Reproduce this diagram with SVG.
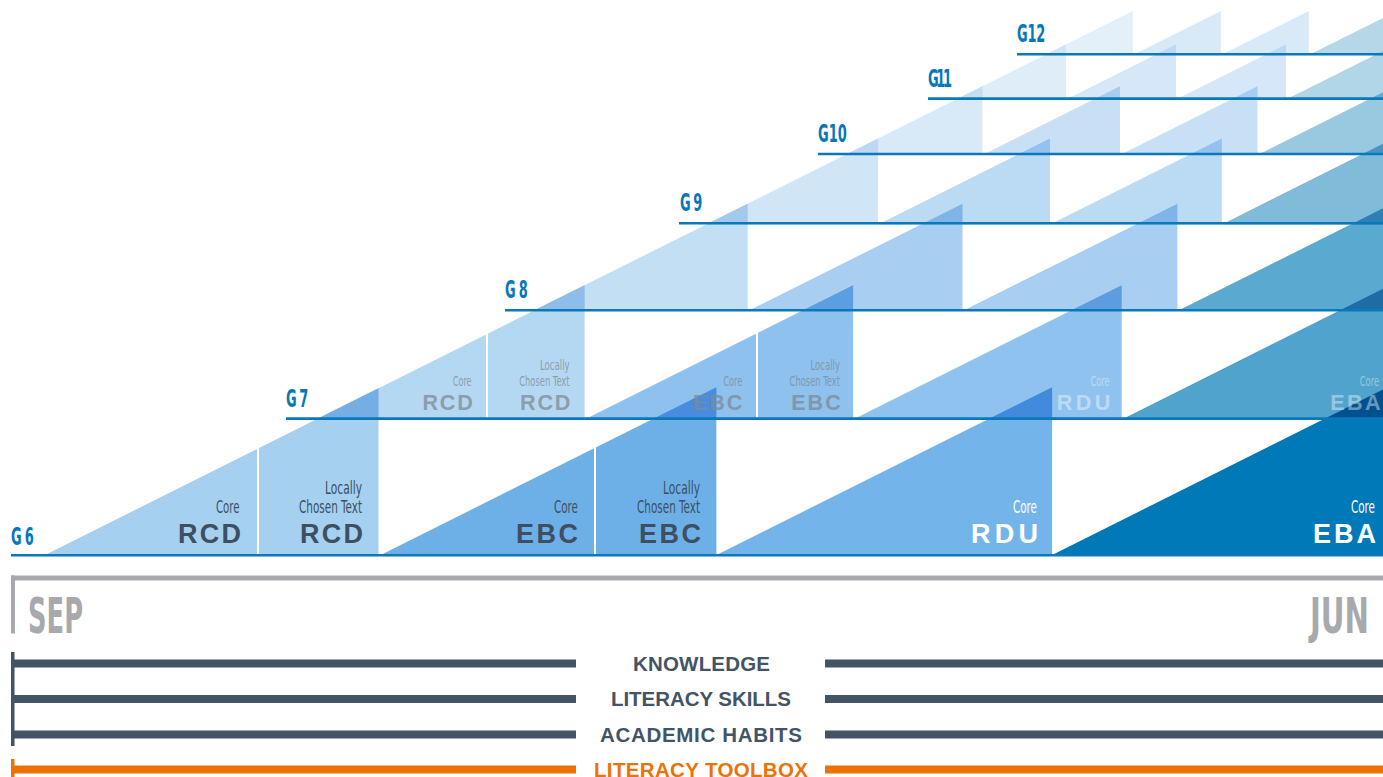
<svg xmlns="http://www.w3.org/2000/svg" width="1383" height="777" viewBox="0 0 1383 777">
<style>
.gl{stroke:#0a78b9;stroke-width:2.6;fill:none}
.gt{font-family:"Liberation Sans Narrow","DejaVu Sans Condensed","Liberation Sans",sans-serif;font-weight:bold;font-size:24px;fill:#0677b7}
.sm{font-family:"Liberation Sans Narrow","DejaVu Sans Condensed","Liberation Sans",sans-serif;font-size:18px}
.big{font-family:"Liberation Sans","DejaVu Sans",sans-serif;font-weight:bold;font-size:27px}
.sm7{font-family:"Liberation Sans Narrow","DejaVu Sans Condensed","Liberation Sans",sans-serif;font-size:14.4px}
.big7{font-family:"Liberation Sans","DejaVu Sans",sans-serif;font-weight:bold;font-size:21.6px}
.d{fill:#3d4f61}
.w{fill:#ffffff}
.g7d{fill:#7f8a96;opacity:0.75}
.g7w{fill:#ffffff;opacity:0.4}
.sep{fill:#ffffff}
.mo{font-family:"Liberation Sans Narrow","DejaVu Sans Condensed","Liberation Sans",sans-serif;font-weight:bold;font-size:50px;fill:#a7a9ac}
.th{font-family:"Liberation Sans","DejaVu Sans",sans-serif;font-weight:bold;font-size:20.5px;fill:#435464}
.tho{font-family:"Liberation Sans","DejaVu Sans",sans-serif;font-weight:bold;font-size:20.5px;fill:#ee7203}
.bar{fill:#435464}
.or{fill:#ee7203}
</style>

<g id="row-g6">
<polygon points="45,555 378.5,388.25 378.5,555" fill="#a6d0f0"/>
<polygon points="380.7,555 716.4,387.15 716.4,555" fill="#6db0e8"/>
<polygon points="716.4,555 1052.1,387.15 1052.1,555" fill="#73b5eb"/>
<polygon points="1052.1,555 1383,389.55 1383,555" fill="#0079b9"/>
<rect class="sep" x="257" y="440" width="2" height="116"/>
<rect class="sep" x="594" y="440" width="2" height="116"/>
<text class="sm d" x="216" y="512.5" textLength="23.5" lengthAdjust="spacingAndGlyphs">Core</text>
<text class="big d" x="178" y="542.7" textLength="63" lengthAdjust="spacing">RCD</text>
<text class="sm d" x="325" y="493.5" textLength="37" lengthAdjust="spacingAndGlyphs">Locally</text>
<text class="sm d" x="299" y="512.5" textLength="63" lengthAdjust="spacingAndGlyphs">Chosen Text</text>
<text class="big d" x="300" y="542.7" textLength="63" lengthAdjust="spacing">RCD</text>
<text class="sm d" x="554" y="512.5" textLength="24" lengthAdjust="spacingAndGlyphs">Core</text>
<text class="big d" x="516" y="542.7" textLength="62" lengthAdjust="spacing">EBC</text>
<text class="sm d" x="663" y="493.5" textLength="37" lengthAdjust="spacingAndGlyphs">Locally</text>
<text class="sm d" x="637" y="512.5" textLength="63" lengthAdjust="spacingAndGlyphs">Chosen Text</text>
<text class="big d" x="639" y="542.7" textLength="62" lengthAdjust="spacing">EBC</text>
<text class="sm w" x="1013" y="512.5" textLength="24" lengthAdjust="spacingAndGlyphs">Core</text>
<text class="big w" x="971" y="542.7" textLength="67" lengthAdjust="spacing">RDU</text>
<text class="sm w" x="1351" y="512.5" textLength="24" lengthAdjust="spacingAndGlyphs">Core</text>
<text class="big w" x="1313" y="542.7" textLength="63" lengthAdjust="spacing">EBA</text>
</g>

<g id="row-g7">
<polygon points="316,419.5 584.6,285.2 584.6,419.5" fill="#b5d8f2"/>
<polygon points="584.6,419.5 853.1,285.2 853.1,419.5" fill="#8ec1ee"/>
<polygon points="853.1,419.5 1121.7,285.2 1121.7,419.5" fill="#8fc2ef"/>
<polygon points="1121.7,419.5 1383,288.8 1383,419.5" fill="#4fa3cc"/>
<rect class="sep" x="486" y="325" width="2" height="95"/>
<rect class="sep" x="756" y="325" width="2" height="95"/>
<polygon points="316,419.5 378.5,388.25 378.5,419.5" fill="#75aee5"/>
<polygon points="651.7,419.5 716.4,387.15 716.4,419.5" fill="#478cde"/>
<polygon points="987.4,419.5 1052.1,387.15 1052.1,419.5" fill="#428adc"/>
<polygon points="1323.1,419.5 1383,389.55 1383,419.5" fill="#00518f"/>
<text class="sm7 g7d" x="452.8" y="385.5" textLength="18.8" lengthAdjust="spacingAndGlyphs">Core</text>
<text class="big7 g7d" x="422.4" y="409.7" textLength="50.4" lengthAdjust="spacing">RCD</text>
<text class="sm7 g7d" x="540" y="370.3" textLength="29.6" lengthAdjust="spacingAndGlyphs">Locally</text>
<text class="sm7 g7d" x="519.2" y="385.5" textLength="50.4" lengthAdjust="spacingAndGlyphs">Chosen Text</text>
<text class="big7 g7d" x="520" y="409.7" textLength="50.4" lengthAdjust="spacing">RCD</text>
<text class="sm7 g7d" x="723.2" y="385.5" textLength="19.2" lengthAdjust="spacingAndGlyphs">Core</text>
<text class="big7 g7d" x="692.8" y="409.7" textLength="49.6" lengthAdjust="spacing">EBC</text>
<text class="sm7 g7d" x="810.4" y="370.3" textLength="29.6" lengthAdjust="spacingAndGlyphs">Locally</text>
<text class="sm7 g7d" x="789.6" y="385.5" textLength="50.4" lengthAdjust="spacingAndGlyphs">Chosen Text</text>
<text class="big7 g7d" x="791.2" y="409.7" textLength="49.6" lengthAdjust="spacing">EBC</text>
<text class="sm7 g7w" x="1090.4" y="385.5" textLength="19.2" lengthAdjust="spacingAndGlyphs">Core</text>
<text class="big7 g7w" x="1056.8" y="409.7" textLength="53.6" lengthAdjust="spacing">RDU</text>
<text class="sm7 g7w" x="1359.8" y="385.5" textLength="19.2" lengthAdjust="spacingAndGlyphs">Core</text>
<text class="big7 g7w" x="1330.2" y="409.7" textLength="50.4" lengthAdjust="spacing">EBA</text>
</g>

<g id="row-g8">
<polygon points="532.8,311.1 747.7,203.7 747.7,311.1" fill="#c2dff4"/>
<polygon points="747.7,311.1 962.5,203.7 962.5,311.1" fill="#a8cef1"/>
<polygon points="962.5,311.1 1177.4,203.7 1177.4,311.1" fill="#a8cef1"/>
<polygon points="1177.4,311.1 1383,208.3 1383,311.1" fill="#5aa9d1"/>
<polygon points="532.8,311.1 584.6,285.2 584.6,311.1" fill="#8dbde8"/>
<polygon points="801.4,311.1 853.1,285.2 853.1,311.1" fill="#5c9ee2"/>
<polygon points="1069.9,311.1 1121.7,285.2 1121.7,311.1" fill="#5c9de1"/>
<polygon points="1338.5,311.1 1383,288.8 1383,311.1" fill="#1f6ba5"/>
</g>

<g id="row-g9">
<polygon points="706.2,224.4 878.1,138.5 878.1,224.4" fill="#d0e5f6"/>
<polygon points="878.1,224.4 1050,138.5 1050,224.4" fill="#bbdaf4"/>
<polygon points="1050,224.4 1221.8,138.5 1221.8,224.4" fill="#bbdaf4"/>
<polygon points="1221.8,224.4 1383,143.8 1383,224.4" fill="#80bcda"/>
<polygon points="706.2,224.4 747.7,203.7 747.7,224.4" fill="#a3c9ee"/>
<polygon points="921.1,224.4 962.5,203.7 962.5,224.4" fill="#7fb4e8"/>
<polygon points="1135.9,224.4 1177.4,203.7 1177.4,224.4" fill="#7fb4e8"/>
<polygon points="1350.8,224.4 1383,208.3 1383,224.4" fill="#2e7fb6"/>
</g>

<g id="row-g10">
<polygon points="845,155 982.5,86.3 982.5,155" fill="#d8e9f8"/>
<polygon points="982.5,155 1120,86.3 1120,155" fill="#c8e0f6"/>
<polygon points="1120,155 1257.5,86.3 1257.5,155" fill="#c8e0f6"/>
<polygon points="1257.5,155 1383,92.3 1383,155" fill="#98c9e1"/>
<polygon points="845,155 878.1,138.5 878.1,155" fill="#bcd8f3"/>
<polygon points="1016.9,155 1050,138.5 1050,155" fill="#94c1ef"/>
<polygon points="1188.8,155 1221.8,138.5 1221.8,155" fill="#94c1ef"/>
<polygon points="1360.6,155 1383,143.8 1383,155" fill="#4b93c4"/>
</g>

<g id="row-g11">
<polygon points="956,99.5 1066,44.5 1066,99.5" fill="#dfedf9"/>
<polygon points="1066,99.5 1176,44.5 1176,99.5" fill="#d5e7f8"/>
<polygon points="1176,99.5 1286,44.5 1286,99.5" fill="#d5e7f8"/>
<polygon points="1286,99.5 1383,51 1383,99.5" fill="#b1d6e7"/>
<polygon points="956,99.5 982.5,86.3 982.5,99.5" fill="#c5ddf5"/>
<polygon points="1093.5,99.5 1120,86.3 1120,99.5" fill="#a6ccf0"/>
<polygon points="1231,99.5 1257.5,86.3 1257.5,99.5" fill="#a6ccf0"/>
<polygon points="1368.5,99.5 1383,92.3 1383,99.5" fill="#6aa9d2"/>
</g>

<g id="row-g12">
<polygon points="1044.8,55.1 1132.8,11.1 1132.8,55.1" fill="#e3eff9"/>
<polygon points="1132.8,55.1 1220.8,11.1 1220.8,55.1" fill="#d8e9f8"/>
<polygon points="1220.8,55.1 1308.8,11.1 1308.8,55.1" fill="#d8e9f8"/>
<polygon points="1308.8,55.1 1383,18 1383,55.1" fill="#b5d7e7"/>
<polygon points="1044.8,55.1 1066,44.5 1066,55.1" fill="#d0e4f7"/>
<polygon points="1154.8,55.1 1176,44.5 1176,55.1" fill="#bdd8f4"/>
<polygon points="1264.8,55.1 1286,44.5 1286,55.1" fill="#bdd8f4"/>
<polygon points="1374.8,55.1 1383,51 1383,55.1" fill="#89c0dc"/>
</g>

<g id="grade-lines">
<line class="gl" x1="11" y1="555.3" x2="1383" y2="555.3"/>
<line class="gl" x1="286" y1="418.6" x2="1383" y2="418.6"/>
<line class="gl" x1="505" y1="310.2" x2="1383" y2="310.2"/>
<line class="gl" x1="679" y1="223.2" x2="1383" y2="223.2"/>
<line class="gl" x1="818" y1="154" x2="1383" y2="154"/>
<line class="gl" x1="928" y1="98.6" x2="1383" y2="98.6"/>
<line class="gl" x1="1017" y1="54.3" x2="1383" y2="54.3"/>
</g>

<g id="grade-labels">
<text class="gt" transform="translate(11,545) scale(0.6,1)" textLength="38" lengthAdjust="spacing">G6</text>
<text class="gt" transform="translate(286,407) scale(0.6,1)" textLength="37" lengthAdjust="spacing">G7</text>
<text class="gt" transform="translate(505,298) scale(0.6,1)" textLength="38" lengthAdjust="spacing">G8</text>
<text class="gt" transform="translate(680,211) scale(0.6,1)" textLength="37" lengthAdjust="spacing">G9</text>
<text class="gt" transform="translate(818,142) scale(0.6,1)" textLength="48" lengthAdjust="spacing">G10</text>
<text class="gt" transform="translate(928,87) scale(0.6,1)" textLength="40" lengthAdjust="spacing">G11</text>
<text class="gt" transform="translate(1017,42) scale(0.6,1)" textLength="47" lengthAdjust="spacing">G12</text>
</g>

<g id="timeline">
<rect x="11" y="575.5" width="1372" height="5" fill="#a7a9ac"/>
<rect x="11" y="575.5" width="4" height="58" fill="#a7a9ac"/>
<text class="mo" x="28" y="633" textLength="55" lengthAdjust="spacingAndGlyphs">SEP</text>
<text class="mo" x="1310" y="633" textLength="59" lengthAdjust="spacingAndGlyphs">JUN</text>
</g>

<g id="threads">
<rect class="bar" x="11" y="652" width="3.5" height="94"/>
<rect class="bar" x="13" y="659.5" width="563" height="8"/>
<rect class="bar" x="825" y="659.5" width="558" height="8"/>
<text class="th" x="633" y="671" textLength="137" lengthAdjust="spacing">KNOWLEDGE</text>
<rect class="bar" x="13" y="695" width="563" height="8"/>
<rect class="bar" x="825" y="695" width="558" height="8"/>
<text class="th" x="611" y="706" textLength="180" lengthAdjust="spacing">LITERACY SKILLS</text>
<rect class="bar" x="13" y="730.5" width="563" height="8"/>
<rect class="bar" x="825" y="730.5" width="558" height="8"/>
<text class="th" x="600" y="741.5" textLength="202" lengthAdjust="spacing">ACADEMIC HABITS</text>
<rect class="or" x="11" y="759" width="3.5" height="18"/>
<rect class="or" x="13" y="765.5" width="563" height="8"/>
<rect class="or" x="825" y="765.5" width="558" height="8"/>
<text class="tho" x="594" y="776.5" textLength="214" lengthAdjust="spacing">LITERACY TOOLBOX</text>
</g>
</svg>
